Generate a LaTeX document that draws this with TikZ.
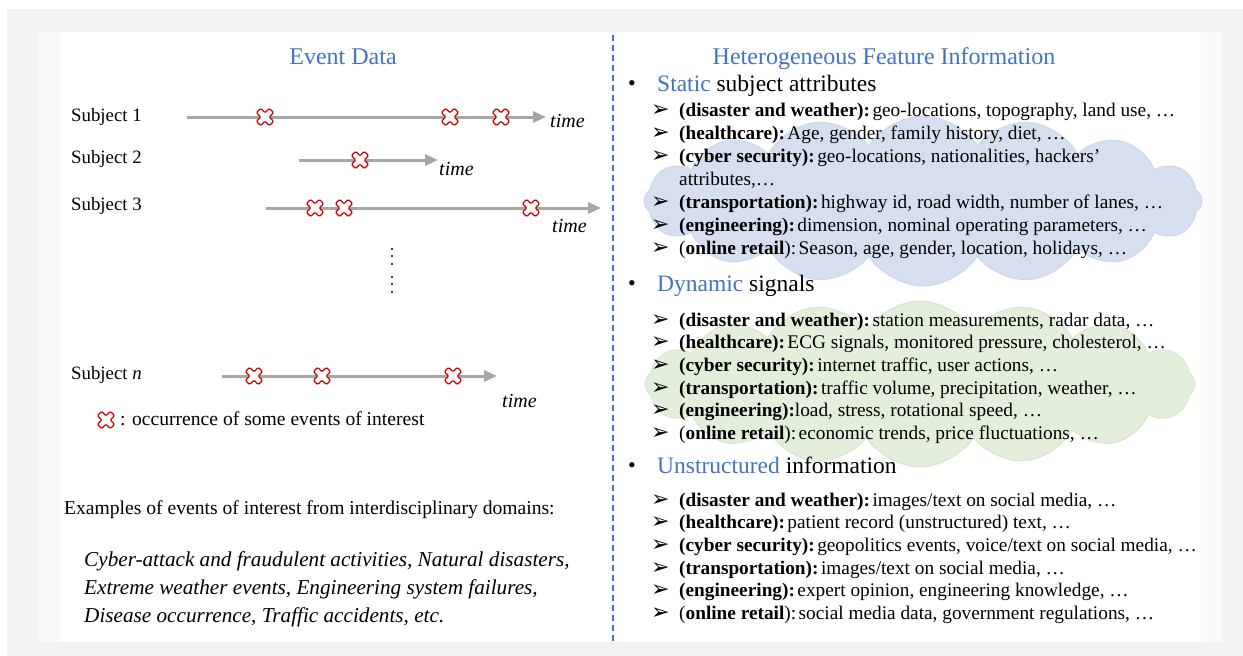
\documentclass[tikz,border=0pt]{standalone}
\usepackage{fontspec}
\setmainfont{Liberation Serif}
\newfontfamily\symf{DejaVu Sans}
\usetikzlibrary{arrows.meta,shapes.symbols}
\definecolor{hblue}{RGB}{68,114,196}
\definecolor{bgrey}{RGB}{242,242,242}
\definecolor{pgrey}{RGB}{250,250,250}
\definecolor{tgrey}{RGB}{166,166,166}
\definecolor{xred}{RGB}{204,0,0}
\definecolor{cblue}{RGB}{214,223,240}
\definecolor{cblueln}{RGB}{204,216,237}
\definecolor{cgreen}{RGB}{227,239,218}
\definecolor{cgreenln}{RGB}{216,231,205}
\newcommand\arw{\makebox[28pt][l]{\raisebox{-0.5pt}{\symf\fontsize{22}{22}\selectfont ➢}}}
\newcommand\cs{\hspace{2.5pt}}
\tikzset{
  txt/.style={anchor=mid west,inner sep=0pt,font=\fontsize{18.8}{22}\selectfont},
  itm/.style={anchor=mid west,inner sep=0pt,font=\fontsize{19.3}{22}\selectfont},
  head/.style={anchor=mid west,inner sep=0pt,font=\fontsize{23.5}{26}\selectfont},
  bul/.style={anchor=mid,inner sep=0pt,font=\fontsize{22}{26}\selectfont},
  title/.style={anchor=mid,inner sep=0pt,font=\fontsize{24}{26}\selectfont,text=hblue},
  tlab/.style={anchor=mid west,inner sep=0pt,font=\fontsize{20}{22}\selectfont\itshape},
  timeline/.style={draw=tgrey,line width=3pt,-{Triangle[length=13pt,width=11pt]}},
  evx/.pic={\draw[xred,line width=1.3pt,fill=white,rotate=45,rounded corners=1.2pt]
     (3,3)--(3,9.2)--(-3,9.2)--(-3,3)--(-9.2,3)--(-9.2,-3)--(-3,-3)--(-3,-9.2)--(3,-9.2)--(3,-3)--(9.2,-3)--(9.2,3)--cycle;},
  blob/.style={cloud,cloud puffs=16,cloud puff arc=115,cloud ignores aspect,inner sep=0pt}
}
\begin{document}
\begin{tikzpicture}[x=1pt,y=-1pt]
% backgrounds
\fill[white] (0,0) rectangle (1243,656);
\fill[bgrey] (7,9) rectangle (1243,656);
\fill[pgrey] (38,32) rectangle (1222,642);
\fill[white] (60,32) rectangle (1201,642);
\useasboundingbox (0,0) rectangle (1243,656);

% clouds
\node[blob,fill=cblue,draw=cblueln,line width=1pt,minimum width=558pt,minimum height=170pt] (cb) at (923,201) {};
\node[blob,fill=cgreen,draw=cgreenln,line width=1pt,minimum width=550pt,minimum height=166pt] (cg) at (920,384) {};

% divider
\coordinate (dtop) at (613,35);
\coordinate (dbot) at (613,641);
\draw[hblue,line width=1.5pt,dash pattern=on 6pt off 4pt] (dtop) -- (dbot);

% titles
\node[title] (t1) at (343,62) {Event Data};
\node[title] (t2) at (884,62) {Heterogeneous Feature Information};

% subjects
\node[txt] (l1) at (71,119) {Subject 1};
\node[txt] (l2) at (71,161) {Subject 2};
\node[txt] (l3) at (71,208) {Subject 3};
\node[txt] (ln) at (71,377) {Subject \textit{n}};

\coordinate (a1) at (187,117); \coordinate (b1) at (546,117);
\coordinate (a2) at (299,160); \coordinate (b2) at (438,160);
\coordinate (a3) at (266,208); \coordinate (b3) at (601,208);
\coordinate (an) at (222,376); \coordinate (bn) at (497,376);
\draw[timeline] (a1) -- (b1);
\draw[timeline] (a2) -- (b2);
\draw[timeline] (a3) -- (b3);
\draw[timeline] (an) -- (bn);

\pic at (265,117) {evx}; \pic at (450,117) {evx}; \pic at (501,117) {evx};
\pic at (360,160) {evx};
\pic at (315,208) {evx}; \pic at (344,208) {evx}; \pic at (531,208) {evx};
\pic at (254,376) {evx}; \pic at (322,376) {evx}; \pic at (453,376) {evx};

\node[tlab] (tm1) at (550,125) {time};
\node[tlab] (tm2) at (439,173) {time};
\node[tlab] (tm3) at (552,230) {time};
\node[tlab] (tmn) at (502,405) {time};

% vertical dots
\foreach \yy in {249,256,264,277,284,292} \fill[black] (392,\yy) circle (1.2pt);

% legend
\pic at (106,420) {evx};
\node[txt,font=\fontsize{19.6}{22}\selectfont] (leg) at (120,423) {: occurrence of some events of interest};

% examples
\node[txt,font=\fontsize{19.6}{22}\selectfont] (ex) at (64,512) {Examples of events of interest from interdisciplinary domains:};
\node[txt,font=\fontsize{21.2}{24}\selectfont\itshape] (ex1) at (84,564) {Cyber-attack and fraudulent activities, Natural disasters,};
\node[txt,font=\fontsize{21.2}{24}\selectfont\itshape] (ex2) at (84,592) {Extreme weather events, Engineering system failures,};
\node[txt,font=\fontsize{21.2}{24}\selectfont\itshape] (ex3) at (84,620) {Disease occurrence, Traffic accidents, etc.};

% right panel headings
\node[bul] (bu1) at (632,88) {•};
\node[head] (h1) at (657,89) {\textcolor{hblue}{Static} subject attributes};
\node[bul] (bu2) at (632,288) {•};
\node[head] (h2) at (657,289) {\textcolor{hblue}{Dynamic} signals};
\node[bul] (bu3) at (632,470) {•};
\node[head] (h3) at (657,471) {\textcolor{hblue}{Unstructured} information};

% static items
\node[itm] (s1) at (651,114) {\arw\textbf{(disaster and weather):}\cs geo-locations, topography, land use, …};
\node[itm] (s2) at (651,137) {\arw\textbf{(healthcare):}\cs Age, gender, family history, diet, …};
\node[itm] (s3) at (651,160) {\arw\textbf{(cyber security):}\cs geo-locations, nationalities, hackers’};
\node[itm] (s3b) at (679,183) {attributes,…};
\node[itm] (s4) at (651,206) {\arw\textbf{(transportation):}\cs highway id, road width, number of lanes, …};
\node[itm] (s5) at (651,229) {\arw\textbf{(engineering):}\cs dimension, nominal operating parameters, …};
\node[itm] (s6) at (651,252) {\arw(\textbf{online retail}):\cs Season, age, gender, location, holidays, …};

% dynamic items
\node[itm] (d1) at (651,324) {\arw\textbf{(disaster and weather):}\cs station measurements, radar data, …};
\node[itm] (d2) at (651,346) {\arw\textbf{(healthcare):}\cs ECG signals, monitored pressure, cholesterol, …};
\node[itm] (d3) at (651,369) {\arw\textbf{(cyber security):}\cs internet traffic, user actions, …};
\node[itm] (d4) at (651,392) {\arw\textbf{(transportation):}\cs traffic volume, precipitation, weather, …};
\node[itm] (d5) at (651,414) {\arw\textbf{(engineering):}load, stress, rotational speed, …};
\node[itm] (d6) at (651,437) {\arw(\textbf{online retail}):\cs economic trends, price fluctuations, …};

% unstructured items
\node[itm] (u1) at (651,504) {\arw\textbf{(disaster and weather):}\cs images/text on social media, …};
\node[itm] (u2) at (651,526) {\arw\textbf{(healthcare):}\cs patient record (unstructured) text, …};
\node[itm] (u3) at (651,549) {\arw\textbf{(cyber security):}\cs geopolitics events, voice/text on social media, …};
\node[itm] (u4) at (651,572) {\arw\textbf{(transportation):}\cs images/text on social media, …};
\node[itm] (u5) at (651,594) {\arw\textbf{(engineering):}\cs expert opinion, engineering knowledge, …};
\node[itm] (u6) at (651,617) {\arw(\textbf{online retail}):\cs social media data, government regulations, …};
\end{tikzpicture}
\end{document}
